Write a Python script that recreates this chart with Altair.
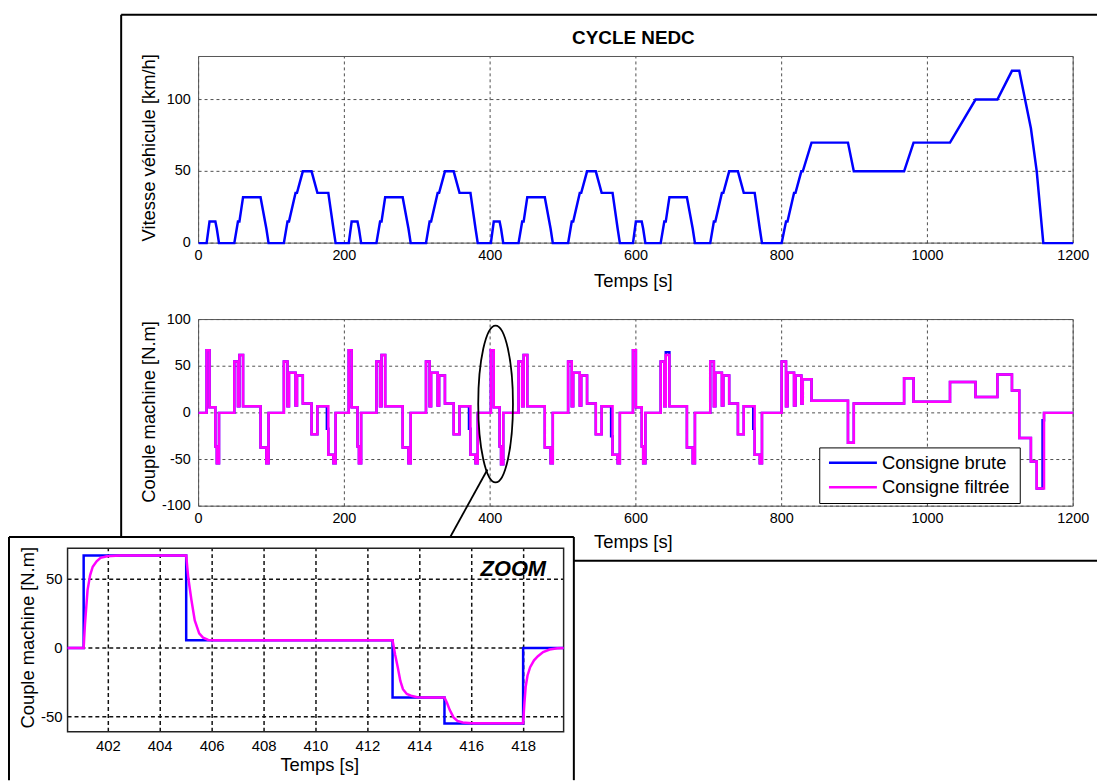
import altair as alt
import pandas as pd

# ---------------- data ----------------
# Vitesse véhicule (cycle NEDC : 4 cycles urbains + cycle extra-urbain)
temps_vitesse = [
    0, 11, 15, 23, 25, 28, 49, 54, 56, 61, 85, 93, 96, 117, 122, 124, 133, 135, 143, 155, 163, 176, 178, 185, 188,
    195, 206, 210, 218, 220, 223, 244, 249, 251, 256, 280, 288, 291, 312, 317, 319, 328, 330, 338, 350, 358, 371, 373, 380, 383,
    390, 401, 405, 413, 415, 418, 439, 444, 446, 451, 475, 483, 486, 507, 512, 514, 523, 525, 533, 545, 553, 566, 568, 575, 578,
    585, 596, 600, 608, 610, 613, 634, 639, 641, 646, 670, 678, 681, 702, 707, 709, 718, 720, 728, 740, 748, 761, 763, 770, 773,
    780, 800, 806, 808, 817, 819, 827, 829, 841, 891, 899, 968, 981, 1031, 1066, 1096, 1116, 1126, 1142, 1150, 1159, 1200,
]
vitesse = [
    0, 0, 15, 15, 10, 0, 0, 15, 15, 32, 32, 10, 0, 0, 15, 15, 35, 35, 50, 50, 35, 35, 35, 10, 0,
    0, 0, 15, 15, 10, 0, 0, 15, 15, 32, 32, 10, 0, 0, 15, 15, 35, 35, 50, 50, 35, 35, 35, 10, 0,
    0, 0, 15, 15, 10, 0, 0, 15, 15, 32, 32, 10, 0, 0, 15, 15, 35, 35, 50, 50, 35, 35, 35, 10, 0,
    0, 0, 15, 15, 10, 0, 0, 15, 15, 32, 32, 10, 0, 0, 15, 15, 35, 35, 50, 50, 35, 35, 35, 10, 0,
    0, 0, 15, 15, 35, 35, 50, 50, 70, 70, 50, 50, 70, 70, 100, 100, 120, 120, 80, 50, 0, 0,
]

# Couple machine : instants de changement de palier et valeurs
temps_couple = [
    0, 11, 15, 23, 25, 28, 49, 54, 56, 61, 85, 93, 96, 117, 122, 124, 133, 135, 143, 155, 163, 176, 178, 185, 188,
    195, 206, 210, 218, 220, 223, 244, 249, 251, 256, 280, 288, 291, 312, 317, 319, 328, 330, 338, 350, 358, 371, 373, 380, 383,
    390, 401, 405, 413, 415, 418, 439, 444, 446, 451, 475, 483, 486, 507, 512, 514, 523, 525, 533, 545, 553, 566, 568, 575, 578,
    585, 596, 600, 608, 610, 613, 634, 639, 641, 646, 670, 678, 681, 702, 707, 709, 718, 720, 728, 740, 748, 761, 763, 770, 773,
    780, 800, 806, 808, 817, 819, 827, 829, 841, 891, 899, 968, 981, 1031, 1066, 1096, 1116, 1126, 1142, 1150, 1158, 1160, 1200,
]
couple_brute = [
    0, 67, 6, -36, -54, 0, 55, 7, 62, 7, -37, -54, 0, 55, 7, 43, 8, 40, 10, -23, 7, -17, -45, -54, 0,
    0, 67, 6, -36, -54, 0, 55, 7, 62, 7, -37, -54, 0, 55, 7, 43, 8, 40, 10, -23, 7, -17, -45, -54, 0,
    0, 67, 6, -36, -55, 0, 55, 7, 62, 7, -37, -54, 0, 55, 7, 43, 8, 40, 10, -23, 7, -25, -45, -54, 0,
    0, 67, 6, -36, -54, 0, 55, 7, 65, 7, -37, -54, 0, 55, 7, 43, 8, 40, 10, -23, 7, -17, -45, -54, 0,
    0, 55, 7, 43, 8, 40, 10, 36, 13, -32, 10, 37, 12, 33, 17, 41, 24, -27, -52, -81, -8, 0, 0,
]
couple_filtree = [
    0, 67, 6, -36, -54, 0, 55, 7, 62, 7, -37, -54, 0, 55, 7, 43, 8, 40, 10, -23, 7, 7, -45, -54, 0,
    0, 67, 6, -36, -54, 0, 55, 7, 62, 7, -37, -54, 0, 55, 7, 43, 8, 40, 10, -23, 7, 7, -45, -54, 0,
    0, 67, 6, -36, -55, 0, 55, 7, 62, 7, -37, -54, 0, 55, 7, 43, 8, 40, 10, -23, 7, 7, -45, -54, 0,
    0, 67, 6, -36, -54, 0, 55, 7, 62, 7, -37, -54, 0, 55, 7, 43, 8, 40, 10, -23, 7, 7, -45, -54, 0,
    0, 55, 7, 43, 8, 40, 10, 36, 13, -32, 10, 37, 12, 33, 17, 41, 24, -27, -52, -81, -81, 0, 0,
]

# Zoom 400.4 s - 419.5 s
zoom_t_brute = [400.43, 401.05, 405.0, 412.95, 414.95, 417.98, 419.54]
zoom_brute = [0, 67.2, 5.6, -36, -55, 0, 0]
zoom_t_filtree = [400.43, 401.05, 401.10, 401.20, 401.30, 401.40, 401.55, 401.70, 401.95, 402.45,
                  405.00, 405.08, 405.20, 405.33, 405.50, 405.65, 405.85, 406.20,
                  412.95, 413.05, 413.15, 413.25, 413.35, 413.50, 413.70, 413.90, 414.30,
                  414.95, 415.05, 415.15, 415.30, 415.45, 415.65, 416.00,
                  417.98, 418.03, 418.08, 418.15, 418.25, 418.40, 418.55, 418.75, 419.00, 419.30, 419.54]
zoom_filtree = [0, 0, 17, 42, 53, 59, 63, 65.5, 66.6, 67.2,
                67.2, 51, 35, 20, 10.5, 7.5, 5.8, 5.6,
                5.6, -5, -14, -24, -30, -33.5, -35, -35.8, -36,
                -36, -40, -45, -50.5, -53, -54.2, -54.8,
                -54.8, -40, -28, -20, -14, -9, -6, -3, -1.2, -0.3, 0]

x_ticks_main = [0, 200, 400, 600, 800, 1000, 1200]
y_ticks_vitesse = [0, 50, 100]
y_ticks_couple = [-100, -50, 0, 50, 100]
x_ticks_zoom = [402, 404, 406, 408, 410, 412, 414, 416, 418]
y_ticks_zoom = [-50, 0, 50]
legend_labels = ["Consigne brute", "Consigne filtrée"]

# ---------------- style ----------------
BLUE = "#0000ff"
MAGENTA = "#ff00ff"
FONT = "Liberation Sans"
W, H = 1097, 775
one = pd.DataFrame({"k": [0]})


def frame_layers(xticks, yticks, xs, ys, xdom, ydom, dash, gwidth, gcolor, bcolor, bwidth,
                 lsize, xpad, ypad):
    gx = alt.Chart(pd.DataFrame({"g": xticks})).mark_rule(
        strokeDash=dash, strokeWidth=gwidth, color=gcolor).encode(
        x=alt.X("g:Q", scale=xs, axis=None),
        y=alt.YDatum(ydom[0], scale=ys, axis=None),
        y2=alt.Y2Datum(ydom[1]))
    gy = alt.Chart(pd.DataFrame({"g": yticks})).mark_rule(
        strokeDash=dash, strokeWidth=gwidth, color=gcolor).encode(
        y=alt.Y("g:Q", scale=ys, axis=None),
        x=alt.XDatum(xdom[0], scale=xs, axis=None),
        x2=alt.X2Datum(xdom[1]))
    box = alt.Chart(one).mark_rect(fillOpacity=0, stroke=bcolor, strokeWidth=bwidth).encode(
        x=alt.XDatum(xdom[0], scale=xs, axis=None), x2=alt.X2Datum(xdom[1]),
        y=alt.YDatum(ydom[0], scale=ys, axis=None), y2=alt.Y2Datum(ydom[1]))
    # tick labels, positioned through the scales
    lx = alt.Chart(pd.DataFrame({"g": xticks, "lab": [str(v) for v in xticks]})).mark_text(
        font=FONT, fontSize=lsize, color="black", align="center", baseline="top", dy=xpad).encode(
        x=alt.X("g:Q", scale=xs, axis=None),
        y=alt.YDatum(ydom[0], scale=ys, axis=None),
        text="lab:N")
    ly = alt.Chart(pd.DataFrame({"g": yticks, "lab": [str(v) for v in yticks]})).mark_text(
        font=FONT, fontSize=lsize, color="black", align="right", baseline="middle", dx=-ypad).encode(
        y=alt.Y("g:Q", scale=ys, axis=None),
        x=alt.XDatum(xdom[0], scale=xs, axis=None),
        text="lab:N")
    return [gx, gy, box, lx, ly]


def label(txt, x, y, size=18.5, angle=0, weight="normal", style="normal", align="center"):
    return alt.Chart(one).mark_text(
        text=txt, font=FONT, fontSize=size, fontWeight=weight, fontStyle=style, angle=angle,
        align=align, baseline="middle", color="black").encode(x=alt.value(x), y=alt.value(y))


# ---------------- top : vitesse ----------------
tx = alt.Scale(domain=[0, 1200], range=[192, 1073], nice=False, zero=False)
ty = alt.Scale(domain=[0, 130], range=[234, 46], nice=False, zero=False)
df_v = pd.DataFrame({"t": temps_vitesse, "v": vitesse})
line_v = alt.Chart(df_v).mark_line(color=BLUE, strokeWidth=2.5).encode(
    x=alt.X("t:Q", scale=tx, axis=None),
    y=alt.Y("v:Q", scale=ty, axis=None),
)
top = alt.layer(*frame_layers(x_ticks_main, y_ticks_vitesse, tx, ty, [0, 1200], [0, 130],
                              [3, 3], 0.8, "#222", "#555", 1, 14.5, 6.5, 8), line_v)

# ---------------- bottom : couple ----------------
bx = alt.Scale(domain=[0, 1200], range=[192, 1073], nice=False, zero=False)
by = alt.Scale(domain=[-100, 100], range=[499, 311], nice=False, zero=False)
df_c = pd.DataFrame({"t": temps_couple, "b": couple_brute, "f": couple_filtree})
line_b = alt.Chart(df_c).mark_line(color=BLUE, strokeWidth=2.5, interpolate="step-after").encode(
    x=alt.X("t:Q", scale=bx, axis=None),
    y=alt.Y("b:Q", scale=by, axis=None),
)
line_f = alt.Chart(df_c).mark_line(color=MAGENTA, strokeWidth=2.5, interpolate="step-after").encode(
    x=alt.X("t:Q", scale=bx, axis=None),
    y=alt.Y("f:Q", scale=by, axis=None),
)
ellipse = alt.Chart(one).mark_point(
    shape="M0,-1 A0.2215,1 0 1,1 0,1 A0.2215,1 0 1,1 0,-1 Z",
    size=24964, filled=False, stroke="black", strokeWidth=1.8, opacity=1).encode(
    x=alt.XDatum(407.5, scale=bx, axis=None),
    y=alt.YDatum(9.5, scale=by, axis=None),
)
bottom = alt.layer(*frame_layers(x_ticks_main, y_ticks_couple, bx, by, [0, 1200], [-100, 100],
                                 [3, 3], 0.8, "#222", "#555", 1, 14.5, 6, 8), line_b, line_f, ellipse)

# ---------------- inset : zoom ----------------
zx = alt.Scale(domain=[400.43, 419.54], range=[60, 559.7], nice=False, zero=False)
zy = alt.Scale(domain=[-61, 72.5], range=[726.3, 541.3], nice=False, zero=False)
df_zb = pd.DataFrame({"t": zoom_t_brute, "v": zoom_brute})
df_zf = pd.DataFrame({"t": zoom_t_filtree, "v": zoom_filtree})
zline_b = alt.Chart(df_zb).mark_line(color=BLUE, strokeWidth=2.5, interpolate="step-after").encode(
    x=alt.X("t:Q", scale=zx, axis=None),
    y=alt.Y("v:Q", scale=zy, axis=None),
)
zline_f = alt.Chart(df_zf).mark_line(color=MAGENTA, strokeWidth=2.5).encode(
    x=alt.X("t:Q", scale=zx, axis=None),
    y=alt.Y("v:Q", scale=zy, axis=None),
)
inset = alt.layer(*frame_layers(x_ticks_zoom, y_ticks_zoom, zx, zy, [400.43, 419.54], [-61, 72.5],
                                [4, 3], 1.5, "#111", "#222", 1.5, 15, 7.2, 5), zline_b, zline_f)


# ---------------- decorations ----------------
def seg(x1, y1, x2, y2, w=2, color="black"):
    return alt.Chart(one).mark_rule(strokeWidth=w, color=color).encode(
        x=alt.value(x1), y=alt.value(y1), x2=alt.value(x2), y2=alt.value(y2))


main_frame = [seg(114, 4, 1097, 4), seg(114, 4, 114, 530), seg(570, 554, 1097, 554)]
inset_frame = [seg(1, 530, 570, 530), seg(1, 530, 1, 775), seg(570, 530, 570, 775)]
connector = seg(483, 462, 445.5, 530, 1.8)

texts = [
    label("CYCLE NEDC", 630, 27, size=19, weight="bold"),
    label("Temps [s]", 630, 272),
    label("Temps [s]", 630, 535),
    label("Vitesse véhicule [km/h]", 142, 138, angle=270),
    label("Couple machine [N.m]", 142, 404, angle=270),
    label("Temps [s]", 314, 760),
    label("Couple machine [N.m]", 20, 631.5, angle=270),
    label("ZOOM", 542, 562, size=22, weight="bold", style="italic", align="right"),
]

legend_box = alt.Chart(one).mark_rect(fill="white", stroke="black", strokeWidth=1).encode(
    x=alt.value(817.7), x2=alt.value(1019.7), y=alt.value(440.3), y2=alt.value(496.3))
legend_items = []
for lab, col, yy in [(legend_labels[0], BLUE, 455.3), (legend_labels[1], MAGENTA, 480)]:
    legend_items.append(seg(827, yy, 875.3, yy, 2.5, col))
    legend_items.append(label(lab, 880.3, yy, align="left"))

chart = alt.layer(
    *main_frame, top, bottom, legend_box, *legend_items, connector, *inset_frame, inset, *texts
).resolve_scale(x="independent", y="independent").properties(
    width=W, height=H, autosize="none", padding=0, background="white"
).configure_view(stroke=None)

chart.save("out.html", embed_options={"renderer": "svg", "actions": False})
